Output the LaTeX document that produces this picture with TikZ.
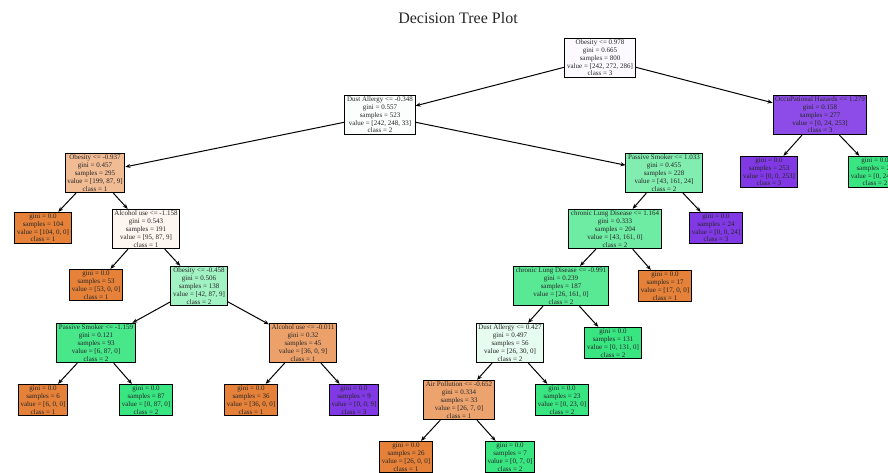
\documentclass[tikz,border=0pt]{standalone}
\usepackage{fontspec}
\setmainfont{Liberation Serif}
\usetikzlibrary{arrows.meta}
\definecolor{cone}{RGB}{229,129,57}
\definecolor{ctwo}{RGB}{57,229,129}
\definecolor{cthree}{RGB}{129,57,229}
\definecolor{croot}{RGB}{252,250,254}
\definecolor{cdusta}{RGB}{251,254,252}
\definecolor{coccu}{RGB}{141,76,231}
\definecolor{cobesa}{RGB}{241,187,148}
\definecolor{calca}{RGB}{253,245,240}
\definecolor{cobesb}{RGB}{162,243,196}
\definecolor{cpassa}{RGB}{71,231,138}
\definecolor{calcb}{RGB}{236,161,107}
\definecolor{cpassb}{RGB}{129,238,175}
\definecolor{cchra}{RGB}{110,236,163}
\definecolor{cchrb}{RGB}{89,233,149}
\definecolor{cdustb}{RGB}{229,252,238}
\definecolor{cair}{RGB}{236,163,110}
\begin{document}
\begin{tikzpicture}[x=1pt,y=-1pt,
  tnode/.style={draw=black, line width=1pt, align=center, font=\fontsize{7}{7.8}\selectfont, inner xsep=2.2pt, inner ysep=1.6pt, text=black!85},
  edge/.style={line width=1pt, -{Stealth[length=5pt,width=4pt]}}
]
\useasboundingbox (0,0) rectangle (888,472);
\fill[white] (0,0) rectangle (888,472);
\node[font=\fontsize{16}{18}\selectfont, text=black!85] (title) at (458,18) {Decision Tree Plot};

\node[tnode, fill=croot] (n0) at (600,58) {Obesity <= 0.978\\gini = 0.665\\samples = 800\\value = [242, 272, 286]\\class = 3};
\node[tnode, fill=cdusta] (n1) at (380,115) {Dust Allergy <= -0.348\\gini = 0.557\\samples = 523\\value = [242, 248, 33]\\class = 2};
\node[tnode, fill=coccu] (n2) at (820,115) {OccuPational Hazards <= 1.279\\gini = 0.158\\samples = 277\\value = [0, 24, 253]\\class = 3};
\node[tnode, fill=cthree] (n3) at (769,172) {gini = 0.0\\samples = 253\\value = [0, 0, 253]\\class = 3};
\node[tnode, fill=ctwo] (n4) at (875,172) {gini = 0.0\\samples = 24\\value = [0, 24, 0]\\class = 2};

\node[tnode, fill=cobesa] (n5) at (95,173) {Obesity <= -0.937\\gini = 0.457\\samples = 295\\value = [199, 87, 9]\\class = 1};
\node[tnode, fill=cone] (n6) at (43,228) {gini = 0.0\\samples = 104\\value = [104, 0, 0]\\class = 1};
\node[tnode, fill=calca] (n7) at (146,229) {Alcohol use <= -1.158\\gini = 0.543\\samples = 191\\value = [95, 87, 9]\\class = 1};
\node[tnode, fill=cone] (n8) at (96,285) {gini = 0.0\\samples = 53\\value = [53, 0, 0]\\class = 1};
\node[tnode, fill=cobesb] (n9) at (199,286) {Obesity <= -0.458\\gini = 0.506\\samples = 138\\value = [42, 87, 9]\\class = 2};
\node[tnode, fill=cpassa] (n10) at (96,343) {Passive Smoker <= -1.159\\gini = 0.121\\samples = 93\\value = [6, 87, 0]\\class = 2};
\node[tnode, fill=cone] (n11) at (43,400) {gini = 0.0\\samples = 6\\value = [6, 0, 0]\\class = 1};
\node[tnode, fill=ctwo] (n12) at (146,400) {gini = 0.0\\samples = 87\\value = [0, 87, 0]\\class = 2};
\node[tnode, fill=calcb] (n13) at (303,343) {Alcohol use <= -0.011\\gini = 0.32\\samples = 45\\value = [36, 0, 9]\\class = 1};
\node[tnode, fill=cone] (n14) at (251,400) {gini = 0.0\\samples = 36\\value = [36, 0, 0]\\class = 1};
\node[tnode, fill=cthree] (n15) at (354,400) {gini = 0.0\\samples = 9\\value = [0, 0, 9]\\class = 3};

\node[tnode, fill=cpassb] (n16) at (664,173) {Passive Smoker <= 1.033\\gini = 0.455\\samples = 228\\value = [43, 161, 24]\\class = 2};
\node[tnode, fill=cchra] (n17) at (615,229) {chronic Lung Disease <= 1.164\\gini = 0.333\\samples = 204\\value = [43, 161, 0]\\class = 2};
\node[tnode, fill=cthree] (n18) at (716,228) {gini = 0.0\\samples = 24\\value = [0, 0, 24]\\class = 3};
\node[tnode, fill=cchrb] (n19) at (561,286) {chronic Lung Disease <= -0.991\\gini = 0.239\\samples = 187\\value = [26, 161, 0]\\class = 2};
\node[tnode, fill=cone] (n20) at (665,286) {gini = 0.0\\samples = 17\\value = [17, 0, 0]\\class = 1};
\node[tnode, fill=cdustb] (n21) at (510,343) {Dust Allergy <= 0.427\\gini = 0.497\\samples = 56\\value = [26, 30, 0]\\class = 2};
\node[tnode, fill=ctwo] (n22) at (613,343) {gini = 0.0\\samples = 131\\value = [0, 131, 0]\\class = 2};
\node[tnode, fill=cair] (n23) at (459,400) {Air Pollution <= -0.652\\gini = 0.334\\samples = 33\\value = [26, 7, 0]\\class = 1};
\node[tnode, fill=ctwo] (n24) at (562,400) {gini = 0.0\\samples = 23\\value = [0, 23, 0]\\class = 2};
\node[tnode, fill=cone] (n25) at (406,457) {gini = 0.0\\samples = 26\\value = [26, 0, 0]\\class = 1};
\node[tnode, fill=ctwo] (n26) at (510,457) {gini = 0.0\\samples = 7\\value = [0, 7, 0]\\class = 2};

\foreach \a/\b in {n0/n1,n0/n2,n2/n3,n2/n4,n1/n5,n1/n16,n5/n6,n5/n7,n7/n8,n7/n9,n9/n10,n9/n13,n10/n11,n10/n12,n13/n14,n13/n15,n16/n17,n16/n18,n17/n19,n17/n20,n19/n21,n19/n22,n21/n23,n21/n24,n23/n25,n23/n26}
  \draw[edge] (\a) -- (\b);
\end{tikzpicture}
\end{document}
